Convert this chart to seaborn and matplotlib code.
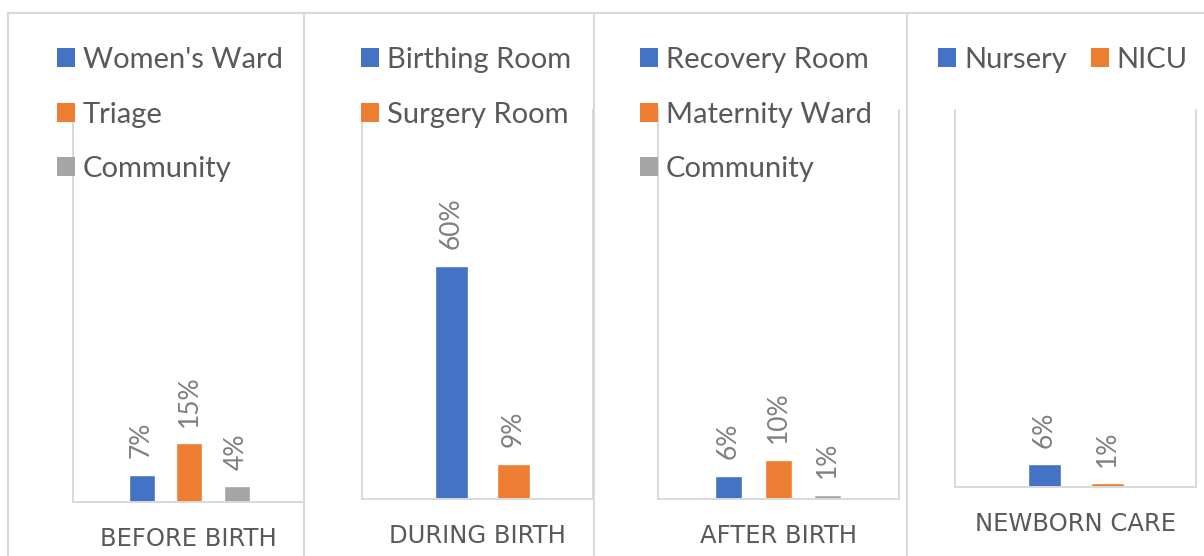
import matplotlib
matplotlib.use("Agg")
import matplotlib.pyplot as plt
import seaborn as sns
from matplotlib.patches import Patch
from matplotlib.lines import Line2D

sns.set_theme(style="white")
plt.rcParams['font.family'] = ['Lato', 'DejaVu Sans']

# ---------------- data ----------------
stages = ["BEFORE BIRTH", "DURING BIRTH", "AFTER BIRTH", "NEWBORN CARE"]
before_locations = ["Women's Ward", "Triage", "Community"]
before_values = [0.07, 0.15, 0.04]
during_locations = ["Birthing Room", "Surgery Room"]
during_values = [0.60, 0.09]
after_locations = ["Recovery Room", "Maternity Ward", "Community"]
after_values = [0.06, 0.10, 0.01]
newborn_locations = ["Nursery", "NICU"]
newborn_values = [0.06, 0.01]

series_colors = ["#4472C4", "#ED7D31", "#A5A5A5"]
GRID = "#D9D9D9"
TEXT = "#595959"
LABEL = "#7F7F7F"

W, H = 1204, 556
fig = plt.figure(figsize=(W / 100, H / 100), dpi=100)

# layout per panel (pixels): plot left, right, bottom, top, first bar centre,
# bar spacing, bar width, legend x, legend top y, ncol, xlabel centre y
panels = [
    dict(locs=before_locations, vals=before_values, l=73, r=304, b=502, t=110,
         c0=141.5, s=47.5, bw=26, lx=57, ly=47, ncol=1, xly=539),
    dict(locs=during_locations, vals=during_values, l=362, r=593, b=499, t=110,
         c0=451.5, s=62, bw=33, lx=361, ly=47, ncol=1, xly=536),
    dict(locs=after_locations, vals=after_values, l=658, r=899, b=499, t=110,
         c0=728.5, s=49.5, bw=27, lx=640, ly=47, ncol=1, xly=536),
    dict(locs=newborn_locations, vals=newborn_values, l=955, r=1196, b=487, t=110,
         c0=1044.5, s=63, bw=33, lx=938, ly=47, ncol=2, xly=524),
]

LEG_FS = 21
fs_px = LEG_FS * 100 / 72

for p, stage in zip(panels, stages):
    ax = fig.add_axes([p['l'] / W, 1 - p['b'] / H, (p['r'] - p['l']) / W, (p['b'] - p['t']) / H])
    n = len(p['locs'])
    cols = series_colors[:n]
    sns.barplot(x=p['locs'], y=p['vals'], hue=p['locs'], palette=cols,
                width=p['bw'] / p['s'], legend=False, ax=ax, saturation=1)
    xmin = -(p['c0'] - p['l']) / p['s']
    ax.set_xlim(xmin, xmin + (p['r'] - p['l']) / p['s'])
    ax.set_ylim(0, 1.0)
    ax.set_xticks([])
    ax.set_yticks([])
    ax.set_xlabel("")
    ax.set_ylabel("")
    ax.set_facecolor("none")
    for side in ["left", "right", "bottom"]:
        ax.spines[side].set_color(GRID)
        ax.spines[side].set_linewidth(1.4)
    ax.spines["top"].set_visible(False)
    for i, v in enumerate(p['vals']):
        ax.annotate(f"{v:.0%}", xy=(i, v), xytext=(0, 12), textcoords="offset points",
                    rotation=90, ha="center", va="bottom", color=LABEL, fontsize=19)
    handles = [Patch(facecolor=c, edgecolor="none") for c in cols]
    ax.legend(handles, p['locs'], loc="upper left",
              bbox_to_anchor=(p['lx'] / W, 1 - p['ly'] / H), bbox_transform=fig.transFigure,
              ncol=p['ncol'], frameon=False, fontsize=LEG_FS, labelcolor=TEXT,
              borderpad=0, borderaxespad=0, handlelength=18 / fs_px, handleheight=18 / fs_px,
              handletextpad=8 / fs_px, labelspacing=0.98, columnspacing=24 / fs_px)
    fig.text((p['l'] + p['r']) / 2 / W, 1 - p['xly'] / H, stage, ha="center", va="center",
             color=TEXT, fontsize=17.5, family=["DejaVu Sans"])

# chart borders
def fline(x0, y0, x1, y1):
    fig.add_artist(Line2D([x0 / W, x1 / W], [1 - y0 / H, 1 - y1 / H],
                          transform=fig.transFigure, color=GRID, lw=1.5, zorder=0))

fline(8, 13, W, 13)
for x in [8, 304, 594, 907]:
    fline(x, 13, x, H)

fig.savefig("out.png", dpi=100, facecolor="white")
